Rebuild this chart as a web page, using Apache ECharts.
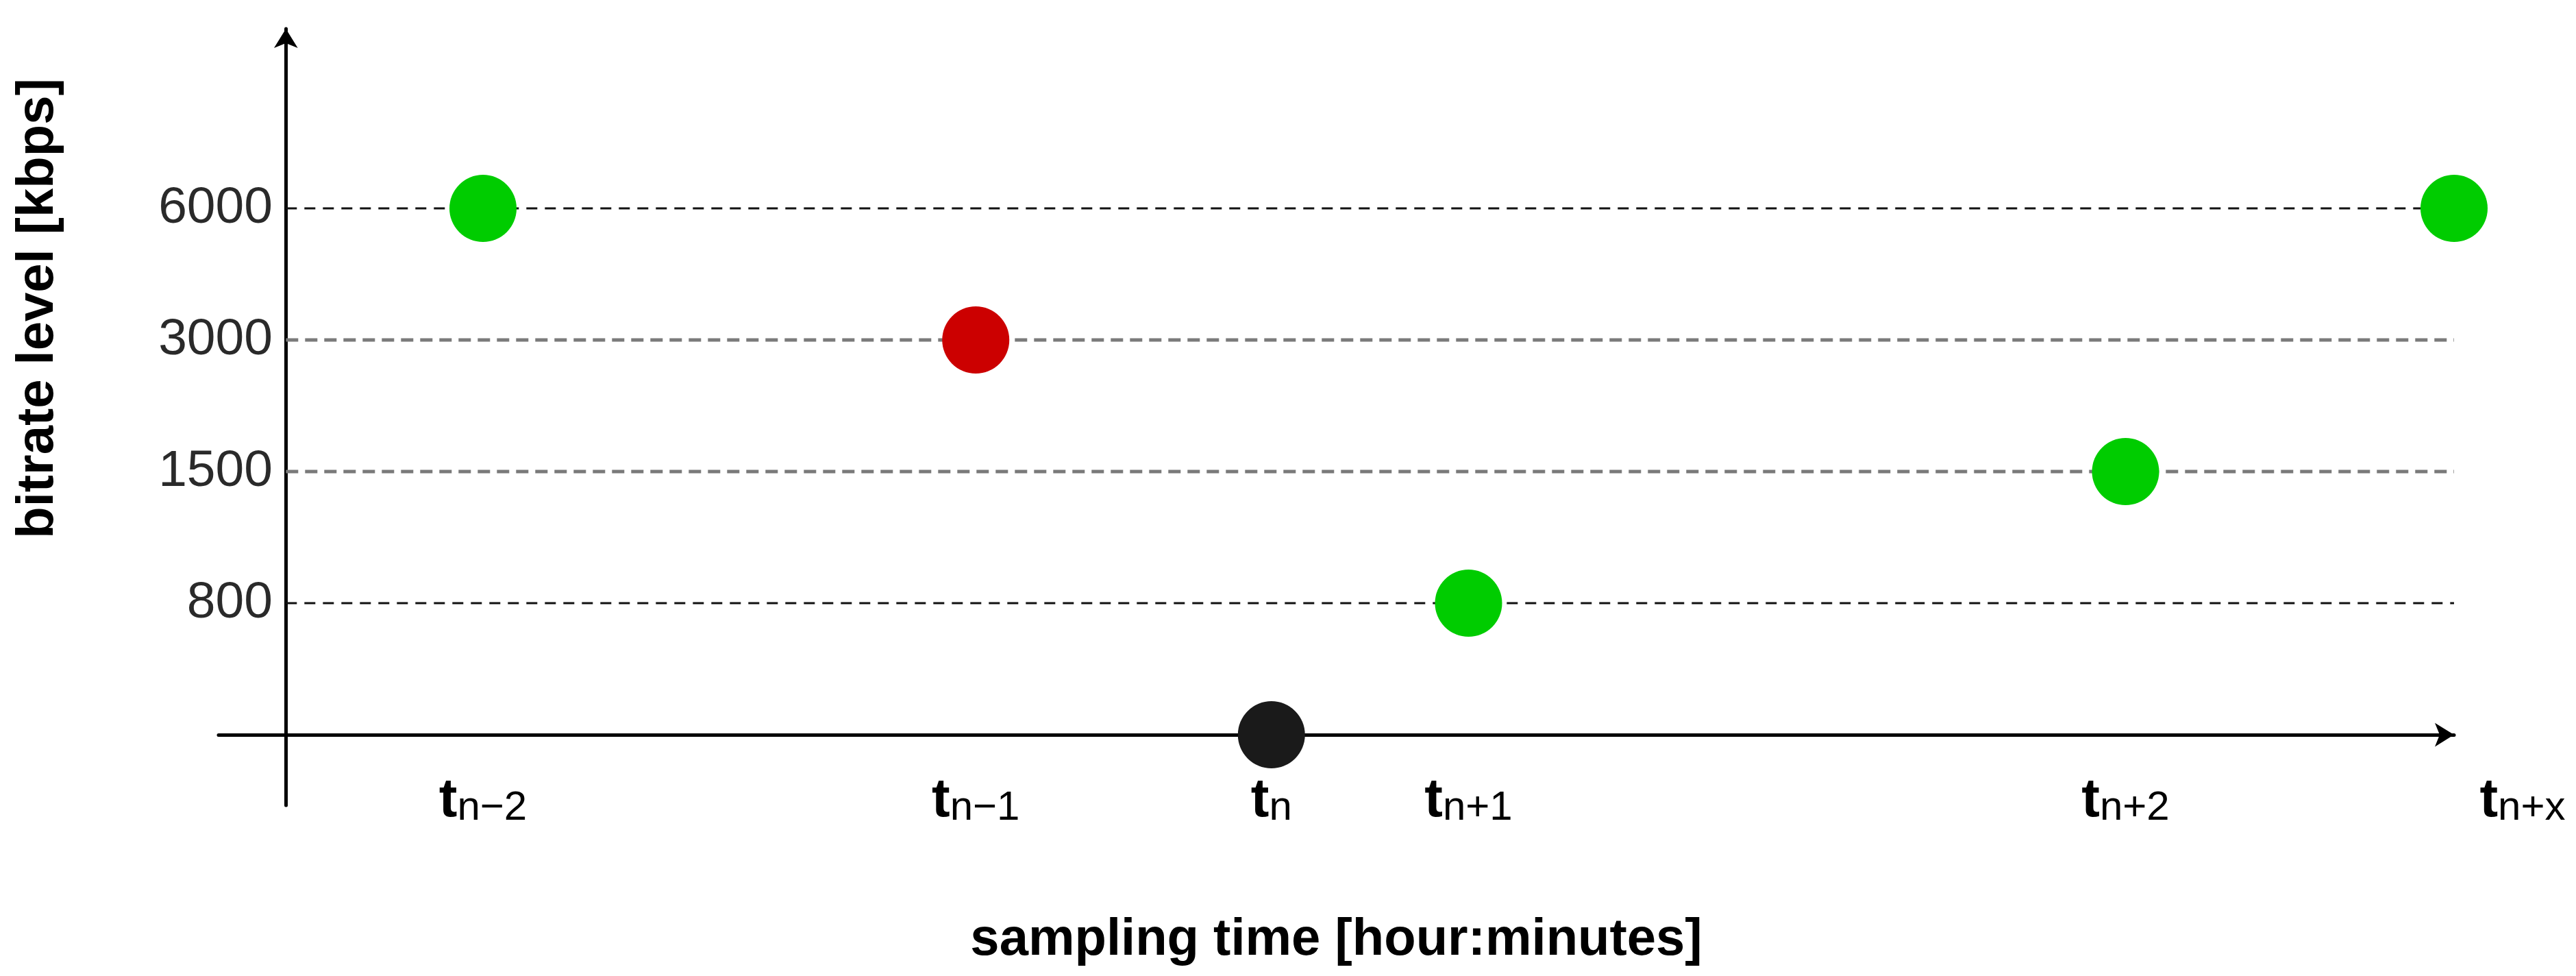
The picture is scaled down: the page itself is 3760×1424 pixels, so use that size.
<!DOCTYPE html>
<html>
<head>
<meta charset="utf-8">
<title>bitrate level vs sampling time</title>
<script src="https://cdn.jsdelivr.net/npm/echarts@6/dist/echarts.min.js"></script>
<style>
  html, body { margin: 0; padding: 0; background: #fff; }
  #chart { width: 3760px; height: 1424px; }
</style>
</head>
<body>
<div id="chart"></div>
<script>
// bitrate levels on the y axis, bottom to top (equally spaced)
const levels = [800, 1500, 3000, 6000]

// sample points
const sampleTimes = [6, 21, 30, 36, 56, 66]
const timeSubs = ['n\u22122', 'n\u22121', 'n', 'n+1', 'n+2', 'n+x']
const bitrates = [6000, 3000, 0, 800, 1500, 6000]
const states = ['ok', 'bad', 'now', 'ok', 'ok', 'ok']

const stateColor = { ok: '#00CC00', bad: '#CC0000', now: '#1A1A1A' }
// dashed guide per level: black thin or grey thick
const guideStyle = [
  { color: '#111', width: 3, type: [16, 11] },
  { color: '#7a7a7a', width: 5, type: [18, 10] },
  { color: '#7a7a7a', width: 5, type: [18, 10] },
  { color: '#111', width: 3, type: [16, 11] },
]
// last time label sits right of its point (px)
const labelNudge = { 5: 100 }

const levelIndex = (v) => (v === 0 ? 0 : levels.indexOf(v) + 1)

const chart = echarts.init(document.getElementById('chart'))

const guideSeries = levels.map((lv, i) => {
  return {
    type: 'line',
    silent: true,
    symbol: 'none',
    z: 1,
    lineStyle: guideStyle[i],
    data: [[0, i + 1], [sampleTimes[sampleTimes.length - 1], i + 1]],
  }
})

const labelRich = {
  t: {
    fontFamily: 'Liberation Sans',
    fontWeight: 'bold',
    fontSize: 80,
    lineHeight: 80,
    color: '#000',
    verticalAlign: 'top',
  },
  s: {
    fontFamily: 'Liberation Sans',
    fontSize: 60,
    lineHeight: 60,
    color: '#000',
    verticalAlign: 'bottom',
    padding: [32, 0, 0, 0],
  },
}
Object.keys(labelNudge).forEach((k) => {
  labelRich['g' + k] = { width: Math.abs(labelNudge[k]) * 2, fontSize: 10 }
})

const option = {
  animation: false,
  backgroundColor: '#fff',
  grid: { left: 319, right: 178, top: 42, bottom: 249, outerBoundsMode: 'none' },
  xAxis: {
    type: 'value',
    min: -2.05,
    max: 66,
    axisLine: {
      onZero: true,
      symbol: ['none', 'arrow'],
      symbolSize: [26, 28],
      lineStyle: { color: '#000', width: 5 },
    },
    axisTick: { show: false },
    splitLine: { show: false },
    axisLabel: {
      customValues: sampleTimes,
      margin: -46,
      formatter: (v) => {
        const i = sampleTimes.indexOf(v)
        let s = '{t|t}{s|' + timeSubs[i] + '}'
        const n = labelNudge[i]
        if (n > 0) s = '{g' + i + '| }' + s
        if (n < 0) s = s + '{g' + i + '| }'
        return s
      },
      rich: labelRich,
    },
    name: 'sampling time [hour:minutes]',
    nameLocation: 'middle',
    nameGap: 159,
    nameTextStyle: {
      fontFamily: 'Liberation Sans',
      fontWeight: 'bold',
      fontSize: 76,
      color: '#000',
    },
  },
  yAxis: {
    type: 'value',
    min: -0.536,
    max: 5.365,
    axisLine: {
      onZero: true,
      symbol: ['none', 'arrow'],
      symbolSize: [26, 28],
      lineStyle: { color: '#000', width: 5 },
    },
    axisTick: { show: false },
    splitLine: { show: false },
    axisLabel: {
      customValues: [1, 2, 3, 4],
      margin: -79,
      formatter: (v) => String(levels[v - 1]),
      fontFamily: 'Liberation Sans',
      fontSize: 75,
      color: '#2a2a2a',
    },
  },
  graphic: [
    {
      type: 'text',
      x: 56,
      y: 450,
      rotation: Math.PI / 2,
      style: {
        text: 'bitrate level [kbps]',
        fontFamily: 'Liberation Sans',
        fontWeight: 'bold',
        fontSize: 76,
        fill: '#000',
        align: 'center',
        verticalAlign: 'middle',
      },
    },
  ],
  series: [
    ...guideSeries,
    {
      type: 'scatter',
      z: 3,
      symbolSize: 98,
      itemStyle: { opacity: 1 },
      data: sampleTimes.map((t, i) => ({
        value: [t, levelIndex(bitrates[i])],
        itemStyle: { color: stateColor[states[i]] },
      })),
    },
  ],
}

chart.setOption(option)
</script>
</body>
</html>
